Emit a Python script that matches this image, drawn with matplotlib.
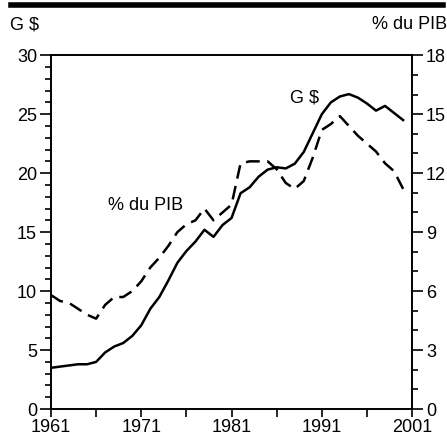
import matplotlib
matplotlib.use("Agg")
import matplotlib.pyplot as plt
from matplotlib.lines import Line2D
from matplotlib.ticker import MultipleLocator
import numpy as np

plt.rcParams['font.family'] = ['Liberation Sans', 'DejaVu Sans']

years = np.arange(1961, 2001)
# G $ (left axis)
gdollars = [3.5, 3.6, 3.7, 3.8, 3.8, 4.0, 4.8, 5.3, 5.6, 6.2,
            7.1, 8.5, 9.5, 10.9, 12.4, 13.4, 14.2, 15.2, 14.6, 15.6,
            16.2, 18.3, 18.8, 19.7, 20.3, 20.5, 20.4, 20.8, 21.8, 23.4,
            25.0, 26.0, 26.5, 26.7, 26.4, 25.9, 25.3, 25.7, 25.1, 24.5]
# % du PIB (right axis)
pct_pib = [5.8, 5.5, 5.4, 5.1, 4.8, 4.6, 5.3, 5.7, 5.7, 6.0,
           6.5, 7.2, 7.7, 8.3, 9.0, 9.4, 9.6, 10.2, 9.6, 10.0,
           10.4, 12.5, 12.6, 12.6, 12.6, 12.2, 11.5, 11.2, 11.6, 12.8,
           14.2, 14.5, 14.9, 14.4, 13.9, 13.5, 13.1, 12.5, 12.1, 11.2]

fig = plt.figure(figsize=(4.47, 4.38), dpi=100)
ax = fig.add_axes([0.114, 0.066, 0.808, 0.808])
ax2 = ax.twinx()

ax.plot(years, gdollars, color='black', lw=1.8)
ax2.plot(years, pct_pib, color='black', lw=1.8, linestyle=(0, (5.5, 3.0)))

ax.set_xlim(1961, 2001)
ax.set_ylim(0, 30)
ax2.set_ylim(0, 18)

ax.set_xticks([1961, 1966, 1971, 1976, 1981, 1986, 1991, 1996, 2001])
ax.set_xticklabels(['1961', '', '1971', '', '1981', '', '1991', '', '2001'])
ax.yaxis.set_major_locator(MultipleLocator(5))
ax.yaxis.set_minor_locator(MultipleLocator(1))
ax2.yaxis.set_major_locator(MultipleLocator(3))
ax2.yaxis.set_minor_locator(MultipleLocator(1))

for a in (ax, ax2):
    for s in a.spines.values():
        s.set_linewidth(1.2)
    a.tick_params(which='major', direction='out', length=8, width=1.2,
                  labelsize=13, pad=2)
    a.tick_params(which='minor', direction='out', length=4.5, width=1.2)
ax.tick_params(axis='x', length=6, pad=1)

ax.text(1987.5, 26.4, 'G $', fontsize=13, va='center', ha='left')
ax.text(1967.3, 17.3, '% du PIB', fontsize=13, va='center', ha='left')

fig.text(0.022, 0.943, 'G $', fontsize=13, va='center', ha='left')
fig.text(1.0, 0.943, '% du PIB', fontsize=13, va='center', ha='right')
fig.add_artist(Line2D([0.025, 0.99], [0.989, 0.989], color='black', lw=4,
                      transform=fig.transFigure))

fig.savefig('out.png', dpi=100)
